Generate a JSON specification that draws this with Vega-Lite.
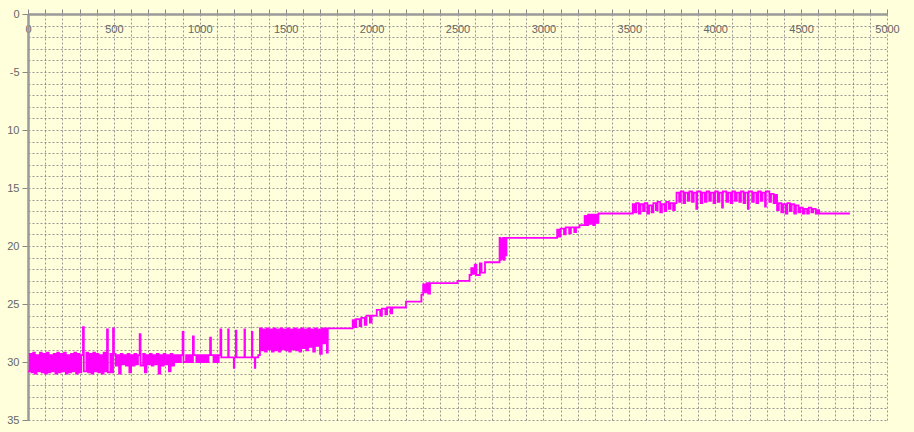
{
  "$schema": "https://vega.github.io/schema/vega-lite/v6.json",
  "width": 859,
  "height": 406,
  "autosize": {"type": "none"},
  "padding": {"left": 28, "top": 14, "right": 27, "bottom": 12},
  "background": "#FFFFDC",
  "config": {
    "view": {"stroke": null, "fill": "#FFFFDC"},
    "axis": {
      "labelFont": "Liberation Sans",
      "labelFontSize": 11,
      "labelColor": "#666666",
      "domainColor": "#9a9a9a",
      "domainWidth": 2.5,
      "tickColor": "#888888",
      "tickWidth": 1,
      "gridColor": "#8c8c8c",
      "gridDash": [2, 2],
      "gridWidth": 1,
      "gridOpacity": 0.9,
      "labelOverlap": false,
      "labelFlush": false
    }
  },
  "data": {
    "values": [
      {"x": 0, "y": 30.8}, {"x": 10, "y": 29.3}, {"x": 20, "y": 30.9}, {"x": 30, "y": 29.2},
      {"x": 40, "y": 31.0}, {"x": 50, "y": 29.4}, {"x": 60, "y": 30.8}, {"x": 70, "y": 29.2},
      {"x": 80, "y": 30.9}, {"x": 90, "y": 29.3}, {"x": 100, "y": 31.0}, {"x": 110, "y": 29.2},
      {"x": 120, "y": 30.9}, {"x": 130, "y": 29.4}, {"x": 140, "y": 30.8}, {"x": 150, "y": 29.3},
      {"x": 160, "y": 31.0}, {"x": 170, "y": 29.2}, {"x": 180, "y": 30.9}, {"x": 190, "y": 29.3},
      {"x": 200, "y": 30.8}, {"x": 210, "y": 29.2}, {"x": 220, "y": 31.0}, {"x": 230, "y": 29.4},
      {"x": 240, "y": 30.9}, {"x": 250, "y": 29.3}, {"x": 260, "y": 30.8}, {"x": 270, "y": 29.2},
      {"x": 280, "y": 31.0}, {"x": 290, "y": 29.3}, {"x": 300, "y": 30.9}, {"x": 310, "y": 29.4},
      {"x": 320, "y": 27.0}, {"x": 325, "y": 30.8}, {"x": 340, "y": 29.2}, {"x": 350, "y": 30.9},
      {"x": 360, "y": 29.3}, {"x": 370, "y": 31.0}, {"x": 380, "y": 29.2}, {"x": 390, "y": 30.8},
      {"x": 400, "y": 29.3}, {"x": 410, "y": 30.9}, {"x": 420, "y": 29.4}, {"x": 430, "y": 31.0},
      {"x": 440, "y": 29.2}, {"x": 450, "y": 30.8}, {"x": 460, "y": 27.2}, {"x": 465, "y": 30.9},
      {"x": 480, "y": 29.3}, {"x": 490, "y": 30.9}, {"x": 495, "y": 27.1}, {"x": 500, "y": 29.3},
      {"x": 510, "y": 30.3}, {"x": 520, "y": 29.4}, {"x": 530, "y": 31.0}, {"x": 540, "y": 29.3},
      {"x": 550, "y": 30.2}, {"x": 560, "y": 29.4}, {"x": 570, "y": 30.3}, {"x": 580, "y": 29.3},
      {"x": 590, "y": 30.9}, {"x": 600, "y": 29.4}, {"x": 610, "y": 30.3}, {"x": 620, "y": 29.3},
      {"x": 630, "y": 30.2}, {"x": 640, "y": 29.4}, {"x": 650, "y": 27.6}, {"x": 655, "y": 30.3},
      {"x": 670, "y": 29.3}, {"x": 680, "y": 30.9}, {"x": 690, "y": 29.4}, {"x": 700, "y": 30.2},
      {"x": 710, "y": 29.3}, {"x": 720, "y": 30.3}, {"x": 730, "y": 29.4}, {"x": 740, "y": 30.2},
      {"x": 750, "y": 29.3}, {"x": 760, "y": 31.0}, {"x": 770, "y": 29.4}, {"x": 780, "y": 30.3},
      {"x": 790, "y": 29.3}, {"x": 800, "y": 30.2}, {"x": 810, "y": 29.4}, {"x": 820, "y": 30.8},
      {"x": 830, "y": 29.3}, {"x": 840, "y": 30.3}, {"x": 850, "y": 29.4}, {"x": 860, "y": 30.0},
      {"x": 870, "y": 29.4}, {"x": 880, "y": 30.0}, {"x": 890, "y": 29.4}, {"x": 900, "y": 27.4},
      {"x": 905, "y": 30.0}, {"x": 920, "y": 29.4}, {"x": 930, "y": 30.0}, {"x": 940, "y": 29.4},
      {"x": 950, "y": 30.0}, {"x": 960, "y": 27.8}, {"x": 965, "y": 29.4}, {"x": 980, "y": 30.0},
      {"x": 990, "y": 29.4}, {"x": 1000, "y": 30.0}, {"x": 1010, "y": 29.4}, {"x": 1020, "y": 30.0},
      {"x": 1030, "y": 29.4}, {"x": 1040, "y": 30.0}, {"x": 1050, "y": 29.4}, {"x": 1060, "y": 27.9},
      {"x": 1065, "y": 29.4}, {"x": 1080, "y": 30.0}, {"x": 1090, "y": 29.4}, {"x": 1100, "y": 30.0},
      {"x": 1110, "y": 29.4}, {"x": 1120, "y": 27.2}, {"x": 1125, "y": 29.6},
      {"x": 1165, "y": 27.2}, {"x": 1168, "y": 29.6}, {"x": 1198, "y": 30.5}, {"x": 1201, "y": 29.6},
      {"x": 1210, "y": 27.3}, {"x": 1213, "y": 29.6}, {"x": 1260, "y": 27.2}, {"x": 1263, "y": 29.6},
      {"x": 1303, "y": 27.4}, {"x": 1306, "y": 29.6}, {"x": 1320, "y": 30.5}, {"x": 1323, "y": 29.6},
      {"x": 1340, "y": 29.4},
      {"x": 1350, "y": 27.1}, {"x": 1360, "y": 29.0}, {"x": 1370, "y": 27.2}, {"x": 1380, "y": 29.1},
      {"x": 1390, "y": 27.1}, {"x": 1400, "y": 28.9}, {"x": 1410, "y": 27.2}, {"x": 1420, "y": 29.1},
      {"x": 1430, "y": 27.1}, {"x": 1440, "y": 29.0}, {"x": 1450, "y": 27.2}, {"x": 1460, "y": 29.1},
      {"x": 1470, "y": 27.1}, {"x": 1480, "y": 28.9}, {"x": 1490, "y": 27.2}, {"x": 1500, "y": 29.0},
      {"x": 1510, "y": 27.1}, {"x": 1520, "y": 29.1}, {"x": 1530, "y": 27.2}, {"x": 1540, "y": 28.9},
      {"x": 1550, "y": 27.1}, {"x": 1560, "y": 29.0}, {"x": 1570, "y": 27.2}, {"x": 1580, "y": 29.1},
      {"x": 1590, "y": 27.1}, {"x": 1600, "y": 28.8}, {"x": 1610, "y": 27.2}, {"x": 1620, "y": 29.0},
      {"x": 1630, "y": 27.1}, {"x": 1640, "y": 28.7}, {"x": 1650, "y": 27.2}, {"x": 1660, "y": 29.1},
      {"x": 1670, "y": 27.1}, {"x": 1680, "y": 28.6}, {"x": 1690, "y": 27.2}, {"x": 1700, "y": 29.3},
      {"x": 1710, "y": 27.1}, {"x": 1720, "y": 28.4}, {"x": 1730, "y": 27.1}, {"x": 1740, "y": 29.2},
      {"x": 1745, "y": 27.1},
      {"x": 1890, "y": 26.4}, {"x": 1900, "y": 27.0}, {"x": 1910, "y": 26.3}, {"x": 1930, "y": 26.9},
      {"x": 1940, "y": 26.2}, {"x": 1960, "y": 26.8}, {"x": 1970, "y": 26.0}, {"x": 1990, "y": 26.6},
      {"x": 2000, "y": 26.0}, {"x": 2030, "y": 25.5}, {"x": 2050, "y": 26.0}, {"x": 2060, "y": 25.4},
      {"x": 2080, "y": 25.9}, {"x": 2090, "y": 25.3}, {"x": 2110, "y": 25.8}, {"x": 2120, "y": 25.3},
      {"x": 2200, "y": 24.8},
      {"x": 2290, "y": 24.2}, {"x": 2300, "y": 23.3}, {"x": 2310, "y": 24.0}, {"x": 2320, "y": 23.2},
      {"x": 2330, "y": 24.1}, {"x": 2340, "y": 23.2}, {"x": 2500, "y": 23.0},
      {"x": 2570, "y": 22.5}, {"x": 2580, "y": 21.9}, {"x": 2590, "y": 22.4}, {"x": 2600, "y": 21.6},
      {"x": 2610, "y": 22.5}, {"x": 2630, "y": 21.5}, {"x": 2640, "y": 22.3}, {"x": 2660, "y": 21.4},
      {"x": 2745, "y": 19.3}, {"x": 2750, "y": 21.2}, {"x": 2755, "y": 19.4}, {"x": 2760, "y": 21.1},
      {"x": 2765, "y": 19.3}, {"x": 2770, "y": 21.2}, {"x": 2775, "y": 19.3}, {"x": 2780, "y": 20.8},
      {"x": 2785, "y": 19.3},
      {"x": 3080, "y": 18.6}, {"x": 3090, "y": 19.2}, {"x": 3100, "y": 18.5}, {"x": 3120, "y": 19.0},
      {"x": 3130, "y": 18.4}, {"x": 3150, "y": 18.9}, {"x": 3160, "y": 18.4}, {"x": 3180, "y": 18.8},
      {"x": 3190, "y": 18.4}, {"x": 3210, "y": 18.2},
      {"x": 3240, "y": 17.4}, {"x": 3250, "y": 18.2}, {"x": 3260, "y": 17.3}, {"x": 3270, "y": 18.1},
      {"x": 3280, "y": 17.3}, {"x": 3290, "y": 18.2}, {"x": 3300, "y": 17.3}, {"x": 3310, "y": 18.0},
      {"x": 3320, "y": 17.2},
      {"x": 3520, "y": 16.4}, {"x": 3530, "y": 17.1}, {"x": 3540, "y": 16.3}, {"x": 3555, "y": 17.2},
      {"x": 3565, "y": 16.4}, {"x": 3580, "y": 17.0}, {"x": 3590, "y": 16.3}, {"x": 3605, "y": 17.2},
      {"x": 3615, "y": 16.5}, {"x": 3630, "y": 17.1}, {"x": 3640, "y": 16.3}, {"x": 3655, "y": 16.9},
      {"x": 3665, "y": 16.2}, {"x": 3680, "y": 17.1}, {"x": 3690, "y": 16.4}, {"x": 3705, "y": 17.0},
      {"x": 3715, "y": 16.2}, {"x": 3730, "y": 16.8}, {"x": 3740, "y": 16.3}, {"x": 3755, "y": 16.9},
      {"x": 3765, "y": 16.3}, {"x": 3775, "y": 15.4}, {"x": 3790, "y": 16.2}, {"x": 3800, "y": 15.3},
      {"x": 3815, "y": 16.3}, {"x": 3825, "y": 15.4}, {"x": 3840, "y": 16.1}, {"x": 3850, "y": 15.3},
      {"x": 3865, "y": 16.2}, {"x": 3875, "y": 15.4}, {"x": 3890, "y": 16.8}, {"x": 3895, "y": 15.3},
      {"x": 3915, "y": 16.3}, {"x": 3925, "y": 15.4}, {"x": 3940, "y": 16.2}, {"x": 3950, "y": 15.3},
      {"x": 3965, "y": 16.1}, {"x": 3975, "y": 15.4}, {"x": 3990, "y": 16.3}, {"x": 4000, "y": 15.3},
      {"x": 4015, "y": 16.2}, {"x": 4025, "y": 15.4}, {"x": 4040, "y": 16.7}, {"x": 4045, "y": 15.3},
      {"x": 4065, "y": 16.2}, {"x": 4075, "y": 15.4}, {"x": 4090, "y": 16.3}, {"x": 4100, "y": 15.3},
      {"x": 4115, "y": 16.1}, {"x": 4125, "y": 15.4}, {"x": 4140, "y": 16.2}, {"x": 4150, "y": 15.3},
      {"x": 4165, "y": 16.3}, {"x": 4175, "y": 15.4}, {"x": 4190, "y": 16.8}, {"x": 4195, "y": 15.3},
      {"x": 4215, "y": 16.2}, {"x": 4225, "y": 15.4}, {"x": 4240, "y": 16.3}, {"x": 4250, "y": 15.3},
      {"x": 4265, "y": 16.1}, {"x": 4275, "y": 15.4}, {"x": 4290, "y": 16.6}, {"x": 4295, "y": 15.3},
      {"x": 4315, "y": 16.2}, {"x": 4325, "y": 15.5}, {"x": 4340, "y": 16.3}, {"x": 4350, "y": 15.6},
      {"x": 4360, "y": 16.9}, {"x": 4370, "y": 16.3}, {"x": 4385, "y": 17.1}, {"x": 4395, "y": 16.4},
      {"x": 4410, "y": 17.2}, {"x": 4420, "y": 16.3}, {"x": 4435, "y": 17.0}, {"x": 4445, "y": 16.4},
      {"x": 4460, "y": 17.2}, {"x": 4470, "y": 16.5}, {"x": 4485, "y": 17.1}, {"x": 4495, "y": 16.7},
      {"x": 4510, "y": 17.2}, {"x": 4520, "y": 16.8}, {"x": 4535, "y": 17.2}, {"x": 4545, "y": 16.7},
      {"x": 4560, "y": 17.1}, {"x": 4570, "y": 16.8}, {"x": 4585, "y": 17.2}, {"x": 4595, "y": 16.9},
      {"x": 4605, "y": 17.2}, {"x": 4784, "y": 17.2}
    ]
  },
  "mark": {"type": "line", "color": "#FF00FF", "strokeWidth": 1.8, "interpolate": "step-after", "clip": true},
  "encoding": {
    "x": {
      "field": "x",
      "type": "quantitative",
      "scale": {"domain": [0, 5000], "nice": false, "zero": false},
      "axis": {
        "orient": "top",
        "title": null,
        "values": [0, 100, 200, 300, 400, 500, 600, 700, 800, 900, 1000, 1100, 1200, 1300, 1400, 1500, 1600, 1700, 1800, 1900, 2000, 2100, 2200, 2300, 2400, 2500, 2600, 2700, 2800, 2900, 3000, 3100, 3200, 3300, 3400, 3500, 3600, 3700, 3800, 3900, 4000, 4100, 4200, 4300, 4400, 4500, 4600, 4700, 4800, 4900, 5000],
        "format": "d",
        "labelExpr": "datum.value % 500 === 0 ? datum.label : ''",
        "tickSize": 5,
        "labelBaseline": "middle",
        "labelPadding": -20,
        "grid": true
      }
    },
    "y": {
      "field": "y",
      "type": "quantitative",
      "scale": {"domain": [0, 35], "reverse": true, "nice": false, "zero": false},
      "axis": {
        "orient": "left",
        "title": null,
        "values": [0, 1, 2, 3, 4, 5, 6, 7, 8, 9, 10, 11, 12, 13, 14, 15, 16, 17, 18, 19, 20, 21, 22, 23, 24, 25, 26, 27, 28, 29, 30, 31, 32, 33, 34, 35],
        "format": "d",
        "labelExpr": "datum.value % 5 === 0 ? (datum.value === 5 ? '-5' : datum.label) : ''",
        "tickSize": 6,
        "tickOpacity": {"condition": {"test": "datum.value % 5 === 0", "value": 1}, "value": 0},
        "labelPadding": 3,
        "grid": true
      }
    }
  }
}
